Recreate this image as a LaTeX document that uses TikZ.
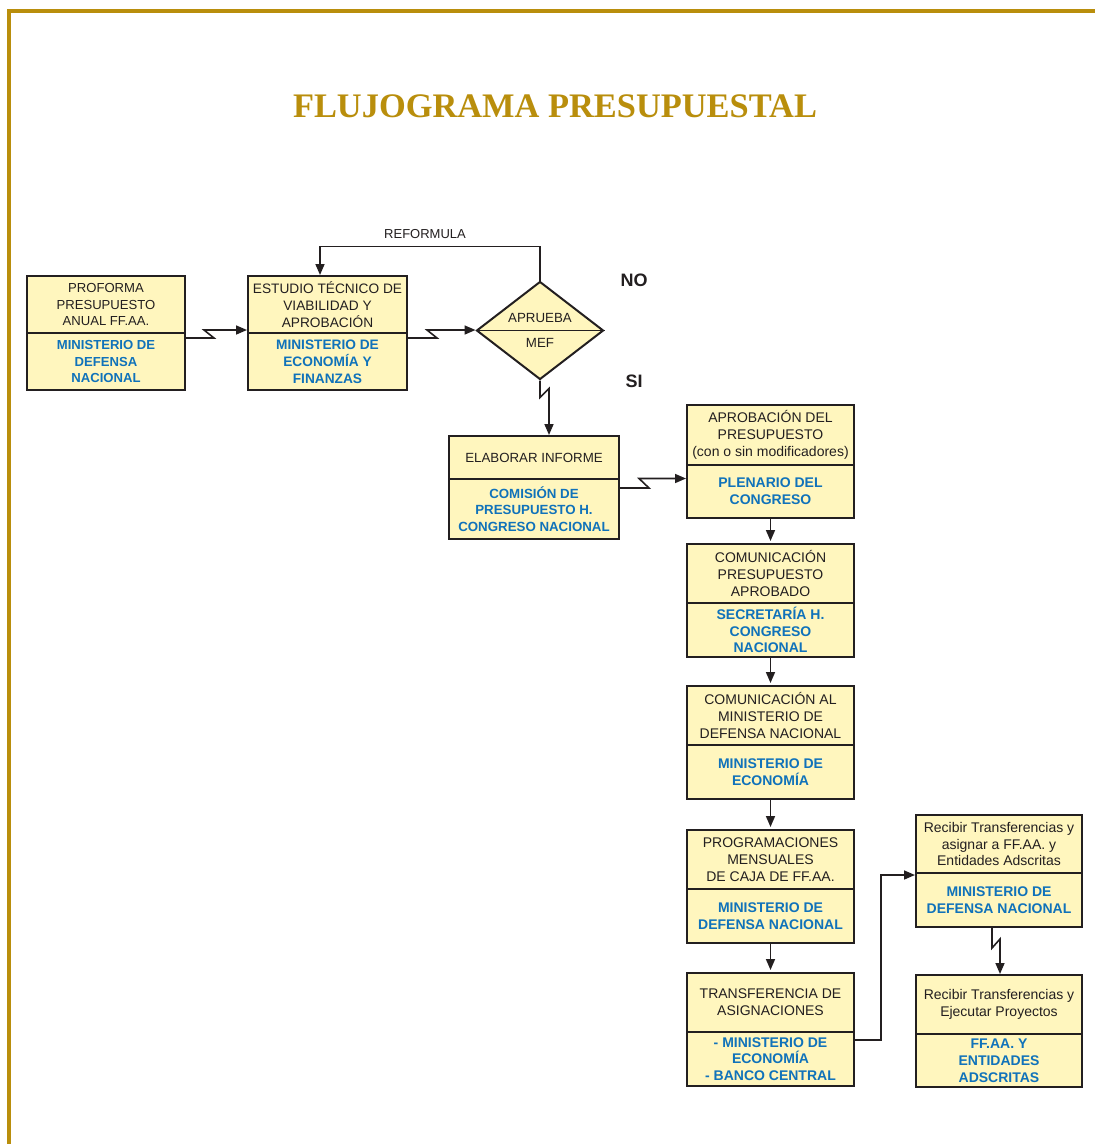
\documentclass[tikz,border=0pt]{standalone}
\usepackage{fontspec}
\setmainfont{Liberation Sans}
\newfontfamily\titlefont{Liberation Serif}
\usetikzlibrary{shapes.geometric,arrows.meta,fit,calc}
\definecolor{gold}{RGB}{185,142,12}
\definecolor{boxfill}{RGB}{255,246,190}
\definecolor{myblue}{RGB}{16,114,186}
\definecolor{txt}{RGB}{35,31,32}
\tikzset{
  boxst/.style={draw=txt, line width=2pt, fill=boxfill, inner sep=0pt},
  divline/.style={draw=txt, line width=1.3pt},
  toptext/.style={text=txt, align=center, inner sep=0pt},
  bluetext/.style={text=myblue, align=center, inner sep=0pt},
  conn/.style={draw=txt, line width=1.6pt, -{Triangle[length=11pt,width=9pt]}},
  label/.style={text=txt, inner sep=0pt}
}
% name, x1, y1, x2, y2, ydiv, fontsize, top text, bottom text
\newcommand{\mybox}[9]{%
  \node[boxst, fit={(#2,#3) (#4,#5)}] (#1) {};
  \draw[divline] (#2,#6) -- (#4,#6);
  \node[toptext, font={\fontsize{#7}{16.8}\selectfont}] (#1-t) at ({(#2+#4)/2},{(#3+#6)/2}) {#8};
  \node[bluetext, font={\fontsize{#7}{16.8}\selectfont\bfseries}] (#1-b) at ({(#2+#4)/2},{(#6+#5)/2}) {#9};
}
\begin{document}
\begin{tikzpicture}[x=1pt,y=-1pt]
\useasboundingbox (0,0) rectangle (1095,1144);
\fill[white] (0,0) rectangle (1095,1144);
% border
\draw[gold, line width=4pt] (8.7,1150) -- (8.7,11.3) -- (1100,11.3);
% title
\node[text=gold, font={\titlefont\bfseries\fontsize{34.4}{40}\selectfont}, anchor=base, inner sep=0pt] (title) at (555,117) {FLUJOGRAMA PRESUPUESTAL};

% boxes
\mybox{b1}{27}{276}{185}{390}{333}{13.1}{PROFORMA\\PRESUPUESTO\\ANUAL FF.AA.}{MINISTERIO DE\\DEFENSA\\NACIONAL}
\mybox{b2}{248}{276}{407}{390}{333}{13.7}{ESTUDIO TÉCNICO DE\\VIABILIDAD Y\\APROBACIÓN}{MINISTERIO DE\\ECONOMÍA Y\\FINANZAS}
\mybox{elab}{449}{436}{619}{539}{479}{13.3}{ELABORAR INFORME}{COMISIÓN DE\\PRESUPUESTO H.\\CONGRESO NACIONAL}
\mybox{aprob}{687}{405}{854}{518}{465}{14}{APROBACIÓN DEL\\PRESUPUESTO\\(con o sin modificadores)}{PLENARIO DEL\\CONGRESO}
\mybox{cpa}{687}{544}{854}{657}{603}{14}{COMUNICACIÓN\\PRESUPUESTO\\APROBADO}{SECRETARÍA H.\\CONGRESO\\NACIONAL}
\mybox{cal}{687}{686}{854}{799}{745}{14}{COMUNICACIÓN AL\\MINISTERIO DE\\DEFENSA NACIONAL}{MINISTERIO DE\\ECONOMÍA}
\mybox{prog}{687}{830}{854}{943}{889}{14}{PROGRAMACIONES\\MENSUALES\\DE CAJA DE FF.AA.}{MINISTERIO DE\\DEFENSA NACIONAL}
\mybox{transf}{687}{973}{854}{1086}{1032}{14}{TRANSFERENCIA DE\\ASIGNACIONES}{- MINISTERIO DE\\ECONOMÍA\\- BANCO CENTRAL}
\mybox{rec1}{916}{815}{1082}{927}{873}{14}{Recibir Transferencias y\\asignar a FF.AA. y\\Entidades Adscritas}{MINISTERIO DE\\DEFENSA NACIONAL}
\mybox{rec2}{916}{975}{1082}{1087}{1034}{14}{Recibir Transferencias y\\Ejecutar Proyectos}{FF.AA. Y\\ENTIDADES\\ADSCRITAS}

% decision
\node[diamond, draw=txt, line width=2pt, fill=boxfill, minimum width=127pt, minimum height=98pt, inner sep=0pt] (mef) at (540,330.5) {};
\draw[divline] (mef.west) -- (mef.east);
\node[toptext, font={\fontsize{13.3}{16}\selectfont}] (mef-t) at (540,318) {APRUEBA};
\node[toptext, font={\fontsize{13.3}{16}\selectfont}] (mef-b) at (540,343) {MEF};

% labels
\node[label, font={\fontsize{13}{16}\selectfont}] (reform) at (425,234) {REFORMULA};
\node[label, font={\fontsize{18}{20}\selectfont\bfseries}] (no) at (634,280) {NO};
\node[label, font={\fontsize{18}{20}\selectfont\bfseries}] (si) at (634,381) {SI};

% connectors
\draw[conn] ([yshift=-5pt]b1.east) -- ++(28,0) -- ++(-10,-8) -- ([yshift=3pt]b2.west);
\draw[conn] ([yshift=-5pt]b2.east) -- ++(29,0) -- ++(-10,-8) -- ([yshift=0.5pt]mef.west);
\draw[conn] (mef.north) -- ++(0,-34) -| ([xshift=-7.5pt]b2.north);
\draw[conn] (mef.south) -- ++(0,17) -- ++(9,-9) -- ([xshift=15pt]elab.north);
\draw[conn] ([yshift=-0.5pt]elab.east) -- ++(29,0) -- ++(-10,-9.5) -- ([yshift=-17pt]aprob.west);
\draw[conn, shorten >=2pt] (aprob.south) -- (cpa.north);
\draw[conn, shorten >=2pt] (cpa.south) -- (cal.north);
\draw[conn, shorten >=2pt] (cal.south) -- (prog.north);
\draw[conn, shorten >=2pt] (prog.south) -- (transf.north);
\draw[conn] ([yshift=-10.5pt]transf.east) -- ++(26,0) |- ([yshift=-4pt]rec1.west);
\draw[conn] ([xshift=-7pt]rec1.south) -- ++(0,20) -- ++(8,-9) -- ([xshift=1pt]rec2.north);
\end{tikzpicture}
\end{document}
